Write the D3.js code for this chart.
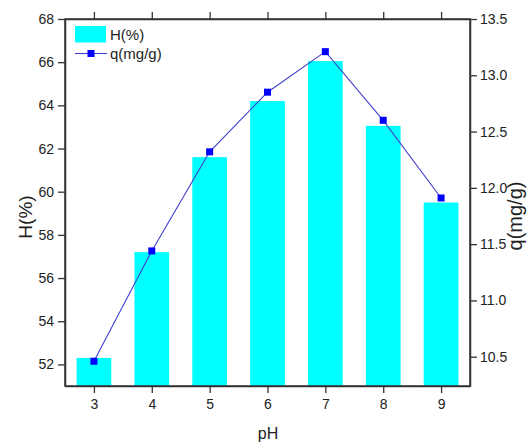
<!DOCTYPE html>
<html>
<head>
<meta charset="utf-8">
<script src="https://cdn.jsdelivr.net/npm/d3@7"></script>
<style>
body { margin: 0; background: #fff; }
text { font-family: Arial, "Liberation Sans", sans-serif; fill: #222; }
</style>
</head>
<body>
<svg id="chart" width="529" height="445"></svg>
<script>
var phValues = [3, 4, 5, 6, 7, 8, 9];
var hValues = [52.3, 57.2, 61.6, 64.2, 66.05, 63.05, 59.5];
var qValues = [10.46, 11.44, 12.32, 12.85, 13.21, 12.60, 11.91];
var leftTicks = [52, 54, 56, 58, 60, 62, 64, 66, 68];
var rightTicks = [10.5, 11.0, 11.5, 12.0, 12.5, 13.0, 13.5];

var svg = d3.select("#chart");
var padL = 65, padR = 470, padT = 19, padB = 386;

var x = d3.scaleLinear().domain([2.5, 9.5]).range([padL, padR]);
var yH = d3.scaleLinear().domain([51, 68]).range([padB, padT]);
var yQ = d3.scaleLinear().domain([10.24, 13.5]).range([padB, padT]);
var barW = (x(1) - x(0)) * 0.6;

// bars
svg.selectAll("rect.bar")
    .data(phValues)
    .enter()
    .append("rect")
    .attr("class", "bar")
    .attr("x", d => x(d) - barW / 2)
    .attr("width", barW)
    .attr("y", (d, i) => yH(hValues[i]))
    .attr("height", (d, i) => padB - yH(hValues[i]))
    .attr("fill", "#00ffff");

// line
svg.append("path")
    .datum(phValues)
    .attr("fill", "none")
    .attr("stroke", "#3f3fd0")
    .attr("stroke-width", 1.1)
    .attr("d", d3.line().x(d => x(d)).y((d, i) => yQ(qValues[i])));

svg.selectAll("rect.pt")
    .data(phValues)
    .enter()
    .append("rect")
    .attr("class", "pt")
    .attr("x", d => x(d) - 3.5)
    .attr("y", (d, i) => yQ(qValues[i]) - 3.5)
    .attr("width", 7)
    .attr("height", 7)
    .attr("fill", "#0000ff");

// axes
var axL = svg.append("g").attr("transform", "translate(" + padL + ",0)")
    .call(d3.axisLeft(yH).tickValues(leftTicks).tickSize(7).tickSizeOuter(0).tickPadding(4).tickFormat(d3.format("d")));
var axR = svg.append("g").attr("transform", "translate(" + padR + ",0)")
    .call(d3.axisRight(yQ).tickValues(rightTicks).tickSize(7).tickSizeOuter(0).tickPadding(3).tickFormat(d3.format(".1f")));
var axB = svg.append("g").attr("transform", "translate(0," + padB + ")")
    .call(d3.axisBottom(x).tickValues(phValues).tickSize(7).tickSizeOuter(0).tickPadding(6).tickFormat(d3.format("d")));
var axT = svg.append("g").attr("transform", "translate(0," + padT + ")")
    .call(d3.axisTop(x).tickValues(phValues).tickSize(7).tickSizeOuter(0).tickFormat(""));

[axL, axR, axB, axT].forEach(function (g) {
    g.select(".domain").attr("stroke", "#333").attr("stroke-width", 1.5);
    g.selectAll(".tick line").attr("stroke", "#333").attr("stroke-width", 1.3);
    g.selectAll(".tick text").attr("font-size", 14).style("font-family", "Arial, 'Liberation Sans', sans-serif").attr("fill", "#222");
});

// frame
svg.append("rect")
    .attr("x", padL).attr("y", padT)
    .attr("width", padR - padL).attr("height", padB - padT)
    .attr("fill", "none").attr("stroke", "#333").attr("stroke-width", 1.5);

// axis titles
svg.append("text")
    .attr("transform", "translate(32,217) rotate(-90)")
    .attr("text-anchor", "middle")
    .attr("font-size", 19)
    .text("H(%)");
svg.append("text")
    .attr("transform", "translate(522,216) rotate(-90)")
    .attr("text-anchor", "middle")
    .attr("font-size", 20)
    .text("q(mg/g)");
svg.append("text")
    .attr("x", 268)
    .attr("y", 439)
    .attr("text-anchor", "middle")
    .attr("font-size", 16)
    .text("pH");

// legend
var lg = svg.append("g");
lg.append("rect").attr("x", 75).attr("y", 26).attr("width", 31).attr("height", 16.5).attr("fill", "#00ffff");
lg.append("text").attr("x", 110).attr("y", 40).attr("font-size", 15).text("H(%)");
lg.append("line").attr("x1", 75).attr("x2", 107).attr("y1", 53.5).attr("y2", 53.5)
    .attr("stroke", "#3f3fd0").attr("stroke-width", 1.1);
lg.append("rect").attr("x", 87.5).attr("y", 50).attr("width", 7).attr("height", 7).attr("fill", "#0000ff");
lg.append("text").attr("x", 110).attr("y", 59).attr("font-size", 15).text("q(mg/g)");
</script>
</body>
</html>
